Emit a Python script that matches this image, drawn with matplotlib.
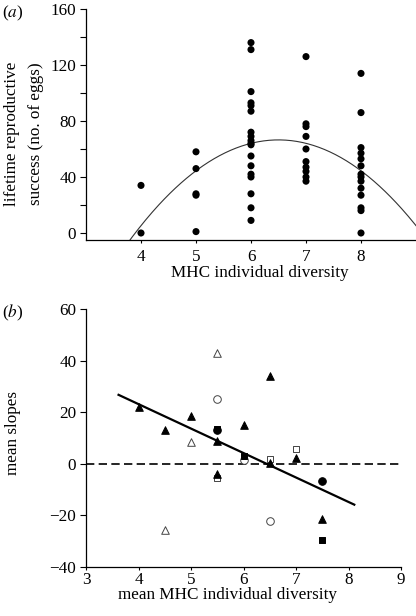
import matplotlib
matplotlib.use('Agg')
import matplotlib.pyplot as plt
import numpy as np

plt.rcParams['font.family'] = ['Liberation Serif', 'DejaVu Serif']
plt.rcParams['mathtext.fontset'] = 'stix'

# --- Panel (a): lifetime reproductive success vs MHC diversity ---
diversity_a = [4, 4,
               5, 5, 5, 5, 5,
               6, 6, 6, 6, 6, 6, 6, 6, 6, 6, 6, 6, 6, 6, 6, 6, 6, 6,
               7, 7, 7, 7, 7, 7, 7, 7, 7, 7,
               8, 8, 8, 8, 8, 8, 8, 8, 8, 8, 8, 8, 8, 8]
eggs_a = [34, 0,
          58, 46, 28, 27, 1,
          136, 131, 101, 93, 91, 87, 72, 69, 66, 64, 55, 48, 42, 40, 28, 18, 9, 63,
          126, 78, 76, 69, 60, 51, 47, 44, 40, 37,
          114, 86, 61, 57, 53, 48, 42, 40, 37, 32, 27, 18, 16, 0]
# quadratic fit shown in the figure (coefficients, highest power first)
quad_coef = [-9.8, 127.4, -347.55]

# --- Panel (b): mean slopes vs mean MHC diversity, by marker group ---
tri_filled_x = [4, 4.5, 5, 5.5, 5.5, 6, 6.5, 6.5, 7, 7.5]
tri_filled_y = [22, 13.2, 18.5, 8.8, -3.9, 15.2, 34.2, 0.4, 2.3, -21.3]
tri_open_x = [5.5, 5, 4.5]
tri_open_y = [42.8, 8.4, -25.7]
circ_open_x = [5.5, 6, 6.5]
circ_open_y = [25.3, 1.3, -22]
circ_filled_x = [5.5, 7.5]
circ_filled_y = [13, -6.5]
sq_filled_x = [5.5, 6, 7.5]
sq_filled_y = [13.6, 3.1, -29.5]
sq_open_x = [5.5, 6.5, 7]
sq_open_y = [-5.6, 1.9, 5.7]
# regression line in panel (b)
reg_x = [3.62, 8.11]
reg_slope = -9.48
reg_intercept = 61.05

fig = plt.figure(figsize=(4.16, 6.16), dpi=100)
W, H = 416, 616
ax1 = fig.add_axes([86 / W, 1 - 240 / H, 330 / W, 231 / H])
ax2 = fig.add_axes([86 / W, 1 - 567 / H, 315 / W, 258 / H])

fs = 12.3

# Panel (a)
xc = np.linspace(3, 9, 300)
ax1.plot(xc, np.polyval(quad_coef, xc), color='#333333', lw=0.8, zorder=2)
ax1.scatter(diversity_a, eggs_a, s=26, color='black', edgecolors='none', zorder=3)
ax1.set_xlim(3, 9)
ax1.set_ylim(-5, 160)
ax1.set_xticks([4, 5, 6, 7, 8])
ax1.set_yticks([0, 40, 80, 120, 160])
ax1.set_yticks([20, 60, 100, 140], minor=True)
ax1.tick_params(axis='y', which='both', direction='out', length=4, width=0.8, pad=3, labelsize=fs)
ax1.tick_params(axis='x', direction='out', length=2.5, width=0.8, pad=4, labelsize=fs)
ax1.set_xlabel('MHC individual diversity', fontsize=fs, va='center')
ax1.xaxis.set_label_coords(0.526, -0.143)
ax1.set_ylabel('lifetime reproductive\nsuccess (no. of eggs)', fontsize=fs, va='center',
               linespacing=1.6)
ax1.yaxis.set_label_coords(-0.188, 0.459)

# Panel (b)
ax2.plot([3, 9], [0, 0], color='black', lw=1.2, dashes=(5, 2.6), zorder=1)
rx = np.array(reg_x)
ax2.plot(rx, reg_intercept + reg_slope * rx, color='black', lw=1.6, zorder=2)
mk = dict(s=30, zorder=3, linewidths=0.7)
ax2.scatter(circ_open_x, circ_open_y, marker='o', facecolors='white', edgecolors='#444444', **mk)
ax2.scatter(sq_open_x, sq_open_y, marker='s', facecolors='white', edgecolors='#444444', s=24,
            zorder=3, linewidths=0.7)
ax2.scatter(tri_open_x, tri_open_y, marker='^', facecolors='white', edgecolors='#444444', **mk)
ax2.scatter(circ_filled_x, circ_filled_y, marker='o', color='black', **mk)
ax2.scatter(sq_filled_x, sq_filled_y, marker='s', color='black', s=24, zorder=4, linewidths=0.7)
ax2.scatter(tri_filled_x, tri_filled_y, marker='^', color='black', **mk)
ax2.set_xlim(3, 9)
ax2.set_ylim(-40, 60)
ax2.set_xticks([3, 4, 5, 6, 7, 8, 9])
ax2.set_yticks([-40, -20, 0, 20, 40, 60])
ax2.set_yticklabels(['\u221240', '\u221220', '0', '20', '40', '60'])
ax2.tick_params(axis='y', direction='out', length=4, width=0.8, pad=3, labelsize=fs)
ax2.tick_params(axis='x', direction='out', length=2.5, width=0.8, pad=1, labelsize=fs)
ax2.set_xlabel('mean MHC individual diversity', fontsize=fs, va='center')
ax2.xaxis.set_label_coords(0.449, -0.11)
ax2.set_ylabel('mean slopes', fontsize=fs, va='center')
ax2.yaxis.set_label_coords(-0.233, 0.52)

for ax in (ax1, ax2):
    for side in ('top', 'right'):
        ax.spines[side].set_visible(False)
    for side in ('left', 'bottom'):
        ax.spines[side].set_linewidth(0.9)

fig.text(2 / W, 1 - 13 / H, r'($\mathit{a}$)', fontsize=fs, va='center', ha='left')
fig.text(2 / W, 1 - 313 / H, r'($\mathit{b}$)', fontsize=fs, va='center', ha='left')

fig.savefig('out.png', dpi=100)
